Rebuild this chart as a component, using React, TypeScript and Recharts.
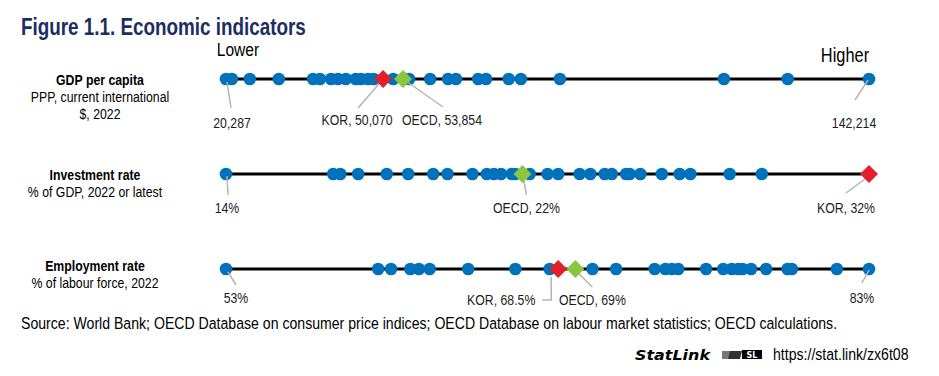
import React from 'react';
import { ScatterChart, Scatter, XAxis, YAxis } from 'recharts';

const SANS = "'Liberation Sans', Arial, sans-serif";

const rowIds = ['gdp', 'inv', 'emp'];
const rowTitles = ['GDP per capita', 'Investment rate', 'Employment rate'];
const rowSubtitles = [
  ['PPP, current international', '$, 2022'],
  ['% of GDP, 2022 or latest'],
  ['% of labour force, 2022'],
];
const rowMin = [20287, 14, 53];
const rowMax = [142214, 32, 83];
const minLabels = ['20,287', '14%', '53%'];
const maxLabels = ['142,214', '', '83%'];

// OECD countries, excluding Korea
const gdpValues = [
  20287, 21400, 24800, 30300, 36800, 38100, 40200, 41500, 43000, 44900, 45900, 47200, 48300,
  52000, 55000, 59000, 62400, 63900, 68100, 69600, 73900, 76200, 83600, 114700, 126800, 142214,
];
const invValues = [
  14, 17.0, 17.2, 17.7, 18.5, 19.1, 19.8, 20.2, 20.9, 21.3, 21.5, 21.7, 22.0, 22.1, 22.5, 23.0,
  23.3, 23.9, 24.2, 24.6, 24.8, 25.2, 25.3, 25.6, 26.2, 26.7, 27.0, 28.1, 29.0,
];
const empValues = [
  53.0, 60.1, 60.7, 61.6, 62.0, 62.5, 64.3, 66.5, 68.1, 70.1, 71.2, 73.0, 73.5, 73.8, 74.1,
  75.4, 76.2, 76.6, 76.9, 77.1, 77.5, 78.2, 79.2, 79.4, 81.5, 83.0,
];
const rowValues = [gdpValues, invValues, empValues];

const korValues = [50070, 32, 68.5];
const korLabels = ['KOR, 50,070', 'KOR, 32%', 'KOR, 68.5%'];
const oecdValues = [53854, 22.3, 69.3];
const oecdLabels = ['OECD, 53,854', 'OECD, 22%', 'OECD, 69%'];

// leader line points and label anchor, relative to the mark
const leaderLayout: Record<string, { path: number[][]; tx: number; ty: number }> = {
  'gdp-min': { path: [[1, 3], [5, 29]], tx: 6, ty: 49 },
  'gdp-max': { path: [[-1, 1], [-14, 21]], tx: -15, ty: 49 },
  'gdp-kor': { path: [[0, 0], [-25, 29]], tx: -26, ty: 46 },
  'gdp-oecd': { path: [[0, 0], [40, 28]], tx: 39, ty: 46 },
  'inv-min': { path: [[1, 2], [2, 21]], tx: 1, ty: 39 },
  'inv-kor': { path: [[0, 2], [-23, 19]], tx: -23, ty: 39 },
  'inv-oecd': { path: [[0, 0], [4, 21]], tx: 4, ty: 39 },
  'emp-min': { path: [[2, 3], [10, 16]], tx: 10, ty: 34 },
  'emp-kor': { path: [[-7, 8], [-7, 31], [-16, 31]], tx: -57, ty: 36 },
  'emp-oecd': { path: [[2, 3], [17, 18]], tx: 17, ty: 36 },
  'emp-max': { path: [[0, 1], [-7, 14]], tx: -7, ty: 34 },
};

const BLUE = '#0072bc';
const RED = '#e2202c';
const GREEN = '#8cc63f';

// narrow text: Arial metrics squeezed horizontally, like Arial Narrow
const NText = ({ x, y, size, anchor = 'start', bold = false, fill = '#000', children }: any) => (
  <text
    transform={`translate(${x},${y}) scale(0.82,1)`}
    textAnchor={anchor}
    fontFamily={SANS}
    fontWeight={bold ? 'bold' : 'normal'}
    fontSize={size}
    fill={fill}
  >
    {children}
  </text>
);

const Dot = (props: any) => <circle cx={props.cx} cy={props.cy} r={6.3} fill={BLUE} />;
const Nothing = () => <g />;

const Leader = ({ cx, cy, id, label }: { cx: number; cy: number; id: string; label: string }) => {
  const lay = leaderLayout[id];
  if (!lay) return null;
  const pts = lay.path.map(([dx, dy]) => `${cx + dx},${cy + dy}`).join(' ');
  return (
    <g>
      <polyline points={pts} fill="none" stroke="#b4b4b4" strokeWidth={1.5} />
      <NText x={cx + lay.tx} y={cy + lay.ty} anchor="middle" size={15} fill="#1c1c1c">
        {label}
      </NText>
    </g>
  );
};

const Annotation = (props: any) => {
  const { cx, cy, payload } = props;
  return <Leader cx={cx} cy={cy} id={payload.id} label={payload.label} />;
};

const makeDiamond = (color: string) => (props: any) => {
  const { cx, cy, payload } = props;
  const s = 9;
  return (
    <g>
      <Leader cx={cx} cy={cy} id={payload.id} label={payload.label} />
      <polygon points={`${cx},${cy - s} ${cx + s},${cy} ${cx},${cy + s} ${cx - s},${cy}`} fill={color} />
    </g>
  );
};
const KorDiamond = makeDiamond(RED);
const OecdDiamond = makeDiamond(GREEN);

const App = () => {
  return (
    <div style={{ position: 'fixed', left: 0, top: 0, width: 939, height: 376, background: '#fff' }}>
      <ScatterChart width={939} height={376} margin={{ top: 79, right: 70, bottom: 107, left: 226 }}>
        {rowIds.map((r, i) => (
          <XAxis key={r} xAxisId={i} dataKey="x" type="number" domain={[rowMin[i], rowMax[i]]} hide />
        ))}
        <YAxis dataKey="y" type="number" domain={[0, 2]} reversed hide />
        {rowIds.map((r, i) => (
          <Scatter
            key={`line-${r}`}
            xAxisId={i}
            data={[{ x: rowMin[i], y: i }, { x: rowMax[i], y: i }]}
            line={{ stroke: '#000', strokeWidth: 3 }}
            shape={Nothing}
            isAnimationActive={false}
          />
        ))}
        {rowIds.map((r, i) => (
          <Scatter
            key={`dots-${r}`}
            xAxisId={i}
            data={rowValues[i].map((v) => ({ x: v, y: i }))}
            shape={Dot}
            isAnimationActive={false}
          />
        ))}
        {rowIds.map((r, i) => (
          <Scatter
            key={`ends-${r}`}
            xAxisId={i}
            data={[
              { x: rowMin[i], y: i, id: `${r}-min`, label: minLabels[i] },
              { x: rowMax[i], y: i, id: `${r}-max`, label: maxLabels[i] },
            ]}
            shape={Annotation}
            isAnimationActive={false}
          />
        ))}
        {rowIds.map((r, i) => (
          <Scatter
            key={`oecd-${r}`}
            xAxisId={i}
            data={[{ x: oecdValues[i], y: i, id: `${r}-oecd`, label: oecdLabels[i] }]}
            shape={OecdDiamond}
            isAnimationActive={false}
          />
        ))}
        {rowIds.map((r, i) => (
          <Scatter
            key={`kor-${r}`}
            xAxisId={i}
            data={[{ x: korValues[i], y: i, id: `${r}-kor`, label: korLabels[i] }]}
            shape={KorDiamond}
            isAnimationActive={false}
          />
        ))}
      </ScatterChart>
      <svg width={939} height={376} style={{ position: 'absolute', left: 0, top: 0, pointerEvents: 'none' }}>
        <NText x={21} y={35} bold size={23} fill="#1b2d62">Figure 1.1. Economic indicators</NText>
        <NText x={238} y={56} anchor="middle" size={19}>Lower</NText>
        <NText x={845} y={62} anchor="middle" size={20}>Higher</NText>
        {rowTitles.map((t, i) => {
          const top = [85, 180, 271][i];
          const cx = [100, 95, 95][i];
          return (
            <g key={t}>
              <NText x={cx} y={top} anchor="middle" bold size={15}>{t}</NText>
              {rowSubtitles[i].map((s, j) => (
                <NText key={s} x={cx} y={top + 17 * (j + 1)} anchor="middle" size={15}>{s}</NText>
              ))}
            </g>
          );
        })}
        <NText x={21} y={329} size={17.2}>
          Source: World Bank; OECD Database on consumer price indices; OECD Database on labour market statistics; OECD calculations.
        </NText>
        <text x={635} y={360} textLength={75} lengthAdjust="spacingAndGlyphs" fontFamily="'DejaVu Sans', sans-serif" fontStyle="italic" fontWeight="bold" fontSize={14} fill="#000">
          StatLink
        </text>
        <g>
          <polygon points="722,351 732,351 730,359 722,359" fill="#777" />
          <polygon points="730,351 742,351 740,359 728,359" fill="#333" />
          <rect x={742} y={350} width={20} height={9} fill="#000" />
          <text x={752} y={358} textAnchor="middle" fontFamily="'DejaVu Sans', sans-serif" fontWeight="bold" fontSize={8} fill="#fff">SL</text>
        </g>
        <NText x={773} y={360} size={17.2}>https://stat.link/zx6t08</NText>
      </svg>
    </div>
  );
};

export default App;
